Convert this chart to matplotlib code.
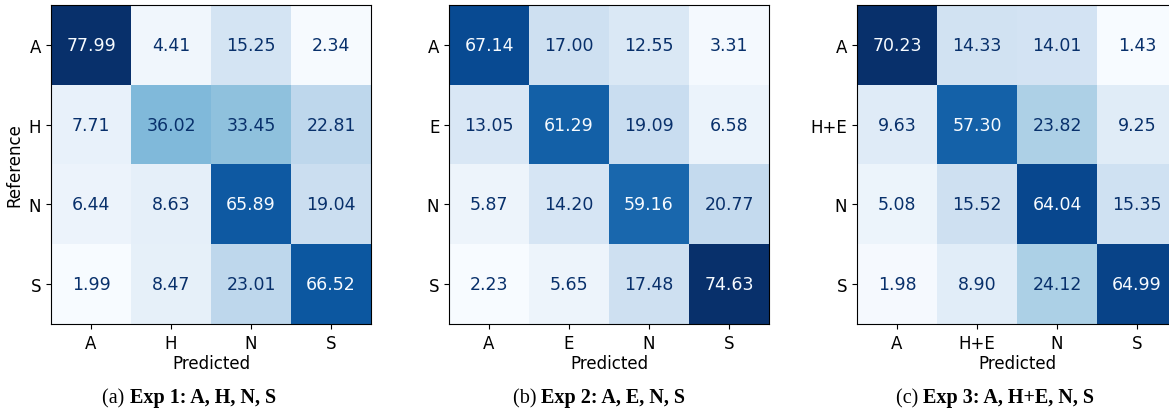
import matplotlib
matplotlib.use("Agg")
import matplotlib.pyplot as plt
import numpy as np

plt.rcParams["font.family"] = ["DejaVu Sans"]

# ---- data ----
labels_a = ["A", "H", "N", "S"]
values_a = [
    [77.99, 4.41, 15.25, 2.34],
    [7.71, 36.02, 33.45, 22.81],
    [6.44, 8.63, 65.89, 19.04],
    [1.99, 8.47, 23.01, 66.52],
]
labels_b = ["A", "E", "N", "S"]
values_b = [
    [67.14, 17.00, 12.55, 3.31],
    [13.05, 61.29, 19.09, 6.58],
    [5.87, 14.20, 59.16, 20.77],
    [2.23, 5.65, 17.48, 74.63],
]
labels_c = ["A", "H+E", "N", "S"]
values_c = [
    [70.23, 14.33, 14.01, 1.43],
    [9.63, 57.30, 23.82, 9.25],
    [5.08, 15.52, 64.04, 15.35],
    [1.98, 8.90, 24.12, 64.99],
]
captions_label = ["(a)", "(b)", "(c)"]
captions_text = ["Exp 1: A, H, N, S", "Exp 2: A, E, N, S", "Exp 3: A, H+E, N, S"]

W, H = 1169, 414
fig = plt.figure(figsize=(W / 100, H / 100), dpi=100)
cmap = plt.get_cmap("Blues")

panels = [
    (labels_a, values_a, 51, True, 189),
    (labels_b, values_b, 449, False, 599),
    (labels_c, values_c, 857, False, 995),
]

renderer = fig.canvas.get_renderer()

for idx, (labels, vals, left_px, ylab, cap_cx) in enumerate(panels):
    cm = np.array(vals)
    ax = fig.add_axes([left_px / W, 89 / H, 320 / W, 319 / H])
    ax.imshow(cm, cmap=cmap, interpolation="nearest", aspect="auto")
    thresh = (cm.max() + cm.min()) / 2.0
    for i in range(cm.shape[0]):
        for j in range(cm.shape[1]):
            color = cmap(1.0) if cm[i, j] < thresh else cmap(0.0)
            ax.text(j, i, f"{cm[i, j]:.2f}", ha="center", va="center",
                    color=color, fontsize=12.5)
    ax.set_xticks(range(len(labels)))
    ax.set_xticklabels(labels, fontsize=12)
    ax.set_yticks(range(len(labels)))
    ax.set_yticklabels(labels, fontsize=12)
    ax.set_xlabel("Predicted", fontsize=12, labelpad=2)
    if ylab:
        ax.set_ylabel("Reference", fontsize=12)

    # caption: "(x)" regular + bold text, centered as a whole
    y = 1 - 403 / H
    t1 = fig.text(0, y, captions_label[idx] + " ", fontfamily="Liberation Serif",
                  fontsize=14.5, va="baseline", ha="left")
    t2 = fig.text(0, y, captions_text[idx], fontfamily="Liberation Serif",
                  fontweight="bold", fontsize=14.5, va="baseline", ha="left")
    w1 = t1.get_window_extent(renderer).width
    w2 = t2.get_window_extent(renderer).width
    x0 = cap_cx - (w1 + w2) / 2
    t1.set_x(x0 / W)
    t2.set_x((x0 + w1) / W)

fig.savefig("out.png", dpi=100)
